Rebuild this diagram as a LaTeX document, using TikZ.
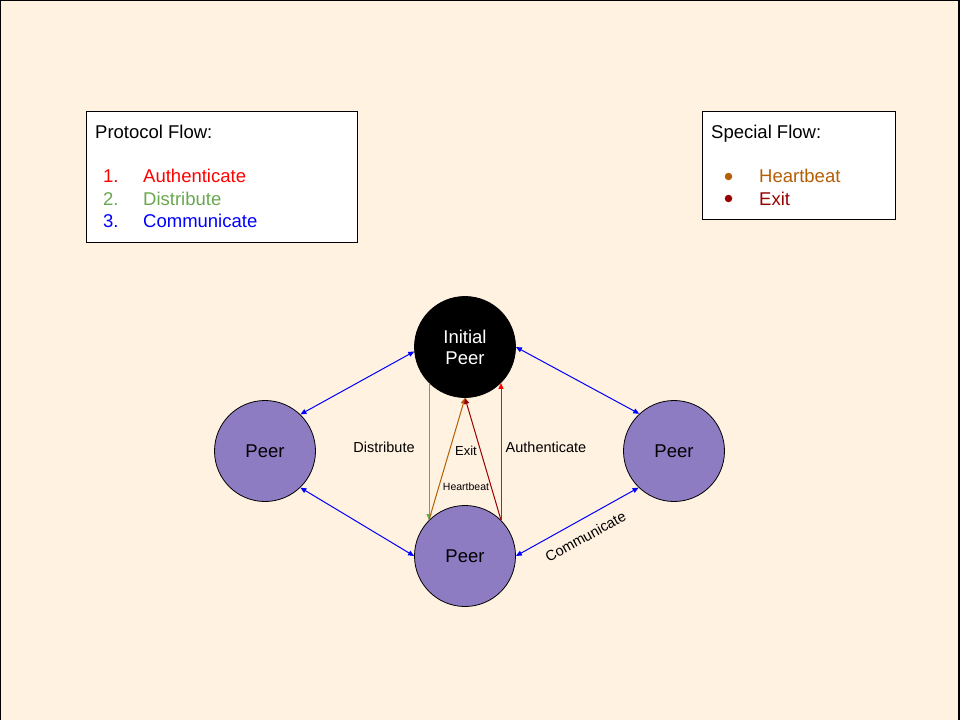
\documentclass[tikz,border=0pt]{standalone}
\usepackage{fontspec}
\setmainfont{Liberation Sans}
\usetikzlibrary{arrows.meta}
\definecolor{bgpeach}{HTML}{FFF2E1}
\definecolor{peerpurple}{HTML}{8E7CC3}
\definecolor{distgreen}{HTML}{6AA84F}
\definecolor{beatbrown}{HTML}{B45F06}
\definecolor{exitred}{HTML}{990000}
\tikzstyle{peer} = [circle, draw=black, line width=0.8pt, fill=peerpurple,
minimum size=101pt, inner sep=0pt, font=\fontsize{18.5}{21}\selectfont]
\tikzstyle{legendbox} = [draw=black, fill=white, line width=0.8pt,
rectangle, anchor=north west, inner sep=0pt]
\tikzstyle{legendtext} = [anchor=base west, inner sep=0pt, font=\fontsize{18.5}{22}\selectfont]
\tikzstyle{flowarrow} = [line width=1pt, -{Triangle[length=6pt,width=5pt]}]
\tikzstyle{peerlink} = [line width=1pt, blue, {Triangle[length=6pt,width=5pt]}-{Triangle[length=6pt,width=5pt]}]
\tikzstyle{lbl} = [inner sep=1pt, font=\fontsize{14.5}{17}\selectfont]

\begin{document}
\begin{tikzpicture}[x=1pt, y=-1pt]
		\useasboundingbox (0,0) rectangle (960,720);
		\fill [bgpeach] (0,0) rectangle (960,720);
		\draw [line width=1.5pt] (0,720) -- (0,0) -- (959,0) -- (959,720);
		%legends
		\node [legendbox, minimum width=271pt, minimum height=131pt] (protobox) at (86,111) {};
		\node [legendtext] (prototitle) at (95,138) {Protocol Flow:};
		\node [legendtext, red] (num1) at (103,182.5) {1.};
		\node [legendtext, red] (item1) at (143,182.5) {Authenticate};
		\node [legendtext, distgreen] (num2) at (103,205) {2.};
		\node [legendtext, distgreen] (item2) at (143,205) {Distribute};
		\node [legendtext, blue] (num3) at (103,227.5) {3.};
		\node [legendtext, blue] (item3) at (143,227.5) {Communicate};
		
		\node [legendbox, minimum width=193pt, minimum height=108pt] (specialbox) at (702,111) {};
		\node [legendtext] (specialtitle) at (711,138) {Special Flow:};
		\node [circle, fill=beatbrown, inner sep=0pt, minimum size=7.5pt] (dot1) at (728.5,176.5) {};
		\node [legendtext, beatbrown] (beatitem) at (759,182.5) {Heartbeat};
		\node [circle, fill=exitred, inner sep=0pt, minimum size=7.5pt] (dot2) at (728.5,198.5) {};
		\node [legendtext, exitred] (exititem) at (759,205) {Exit};
		
		%peers
		\node [peer, fill=black, text=white, align=center] (initpeer) at (465,347) {Initial\\Peer};
		\node [peer] (leftpeer) at (265,451) {Peer};
		\node [peer] (rightpeer) at (674,451) {Peer};
		\node [peer] (bottompeer) at (465,556) {Peer};
		
		\draw [peerlink] (initpeer.185) -- (leftpeer.46);
		\draw [peerlink] (initpeer.0) -- (rightpeer.133);
		\draw [peerlink] (leftpeer.314) -- (bottompeer.180);
		\draw [peerlink] (bottompeer.0) -- (rightpeer.226)
			node [midway, below=10pt, sloped, lbl, text=black] (commlbl) {Communicate};
		
		\draw [flowarrow, distgreen] (initpeer.225) -- (bottompeer.135);
		\draw [flowarrow, beatbrown] (bottompeer.135) -- (initpeer.south);
		\draw [flowarrow, exitred] (bottompeer.45) -- (initpeer.south);
		\draw [flowarrow, red] (bottompeer.45) -- (initpeer.315);
		
		\node [lbl] (distlbl) at (384,447) {Distribute};
		\node [lbl] (authlbl) at (546,447) {Authenticate};
		\node [lbl, font=\fontsize{13}{15}\selectfont] (exitlbl) at (466,451) {Exit};
		\node [lbl, font=\fontsize{10.5}{12}\selectfont] (beatlbl) at (466,487) {Heartbeat};
\end{tikzpicture}
\end{document}
